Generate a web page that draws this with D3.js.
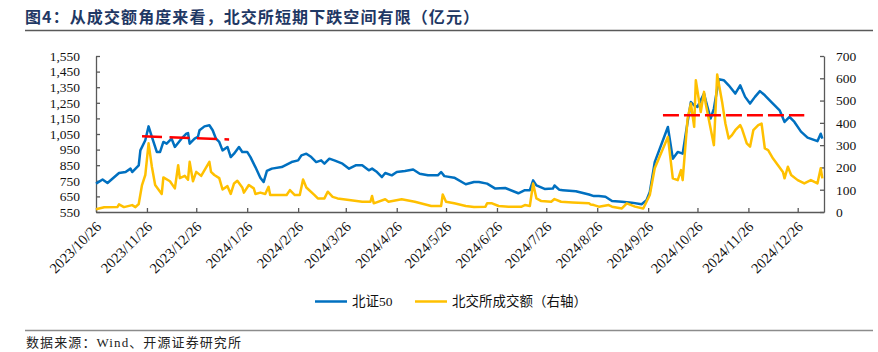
<!DOCTYPE html>
<html>
<head>
<meta charset="utf-8">
<script src="https://cdn.jsdelivr.net/npm/d3@7"></script>
<style>
  body { margin: 0; background: #fff; }
  svg text { font-family: "Liberation Serif", "Noto Sans CJK SC", serif; }
</style>
</head>
<body>
<div id="wrapper"></div>
<script>
const titleText = "图4：从成交额角度来看，北交所短期下跌空间有限（亿元）"
const sourceText = "数据来源：Wind、开源证券研究所"
const seriesNames = ["北证50", "北交所成交额（右轴）"]

const xTickLabels = ["2023/10/26", "2023/11/26", "2023/12/26", "2024/1/26", "2024/2/26",
  "2024/3/26", "2024/4/26", "2024/5/26", "2024/6/26", "2024/7/26", "2024/8/26",
  "2024/9/26", "2024/10/26", "2024/11/26", "2024/12/26"]
const leftTicks = [550, 650, 750, 850, 950, 1050, 1150, 1250, 1350, 1450, 1550]
const rightTicks = [0, 100, 200, 300, 400, 500, 600, 700]

// 北证50 (left axis)
const bz50Dates = ["2023-10-26","2023-10-30","2023-11-02","2023-11-09","2023-11-13","2023-11-16","2023-11-17","2023-11-21","2023-11-22","2023-11-25","2023-11-27","2023-11-29","2023-12-02","2023-12-04","2023-12-06","2023-12-08","2023-12-11","2023-12-13","2023-12-17","2023-12-20","2023-12-21","2023-12-22","2023-12-25","2023-12-27","2023-12-28","2023-12-31","2024-01-03","2024-01-05","2024-01-07","2024-01-09","2024-01-11","2024-01-14","2024-01-16","2024-01-18","2024-01-21","2024-01-23","2024-01-26","2024-01-28","2024-01-31","2024-02-03","2024-02-05","2024-02-07","2024-02-10","2024-02-16","2024-02-22","2024-02-26","2024-02-28","2024-03-02","2024-03-05","2024-03-08","2024-03-11","2024-03-13","2024-03-16","2024-03-19","2024-03-24","2024-03-28","2024-04-01","2024-04-05","2024-04-09","2024-04-11","2024-04-14","2024-04-17","2024-04-19","2024-04-23","2024-04-26","2024-05-01","2024-05-06","2024-05-10","2024-05-15","2024-05-21","2024-05-23","2024-05-25","2024-05-31","2024-06-07","2024-06-12","2024-06-15","2024-06-20","2024-06-25","2024-07-01","2024-07-09","2024-07-13","2024-07-16","2024-07-18","2024-07-20","2024-07-25","2024-07-30","2024-07-31","2024-08-03","2024-08-05","2024-08-13","2024-08-21","2024-08-24","2024-08-27","2024-08-31","2024-09-04","2024-09-10","2024-09-16","2024-09-22","2024-09-25","2024-09-27","2024-09-30","2024-10-08","2024-10-11","2024-10-14","2024-10-17","2024-10-20","2024-10-22","2024-10-24","2024-10-26","2024-10-30","2024-10-31","2024-11-03","2024-11-05","2024-11-08","2024-11-11","2024-11-14","2024-11-18","2024-11-21","2024-11-24","2024-11-27","2024-11-30","2024-12-03","2024-12-06","2024-12-10","2024-12-15","2024-12-18","2024-12-21","2024-12-24","2024-12-28","2025-01-01","2025-01-07","2025-01-09","2025-01-10"]
const bz50Values = [732,758,736,800,806,828,806,849,945,1010,1099,1031,935,935,999,988,1020,967,1020,1052,1056,988,1020,1031,1074,1099,1106,1074,1020,999,945,967,902,924,967,935,935,902,838,770,742,813,828,838,870,881,913,924,902,870,881,860,892,881,860,828,849,849,817,828,806,774,800,785,806,813,822,795,785,785,806,780,770,728,742,742,732,700,704,670,690,690,753,721,698,700,720,692,690,683,662,652,652,648,620,616,610,600,625,678,870,1095,892,935,924,1127,1255,1234,1224,1309,1266,1149,1213,1401,1395,1362,1309,1362,1288,1245,1288,1325,1298,1255,1202,1127,1159,1127,1065,1027,1004,1052,1020]

// 北交所成交额 (right axis)
const volumeDates = ["2023-10-26","2023-10-31","2023-11-08","2023-11-09","2023-11-12","2023-11-17","2023-11-19","2023-11-21","2023-11-23","2023-11-25","2023-11-27","2023-11-29","2023-12-01","2023-12-05","2023-12-06","2023-12-10","2023-12-13","2023-12-15","2023-12-16","2023-12-19","2023-12-21","2023-12-22","2023-12-24","2023-12-26","2023-12-29","2024-01-03","2024-01-04","2024-01-06","2024-01-09","2024-01-11","2024-01-14","2024-01-16","2024-01-18","2024-01-20","2024-01-23","2024-01-24","2024-01-27","2024-01-30","2024-01-31","2024-02-03","2024-02-06","2024-02-08","2024-02-09","2024-02-16","2024-02-19","2024-02-21","2024-02-24","2024-02-27","2024-02-29","2024-03-02","2024-03-07","2024-03-09","2024-03-13","2024-03-15","2024-03-18","2024-03-21","2024-03-28","2024-04-05","2024-04-10","2024-04-11","2024-04-12","2024-04-19","2024-04-21","2024-04-29","2024-05-07","2024-05-17","2024-05-23","2024-05-24","2024-05-26","2024-05-31","2024-06-07","2024-06-12","2024-06-19","2024-06-20","2024-06-23","2024-06-27","2024-07-03","2024-07-11","2024-07-13","2024-07-16","2024-07-18","2024-07-20","2024-07-23","2024-07-29","2024-07-31","2024-08-04","2024-08-11","2024-08-21","2024-08-22","2024-08-24","2024-08-27","2024-09-02","2024-09-04","2024-09-10","2024-09-13","2024-09-18","2024-09-23","2024-09-25","2024-09-27","2024-09-30","2024-10-08","2024-10-11","2024-10-14","2024-10-16","2024-10-17","2024-10-20","2024-10-22","2024-10-24","2024-10-25","2024-10-28","2024-10-30","2024-10-31","2024-11-03","2024-11-05","2024-11-07","2024-11-10","2024-11-12","2024-11-14","2024-11-16","2024-11-18","2024-11-21","2024-11-22","2024-11-25","2024-11-27","2024-11-29","2024-12-02","2024-12-04","2024-12-06","2024-12-08","2024-12-11","2024-12-14","2024-12-17","2024-12-18","2024-12-20","2024-12-22","2024-12-26","2024-12-30","2025-01-03","2025-01-07","2025-01-09","2025-01-10"]
const volumeValues = [12,21,22,34,22,31,22,36,121,166,308,203,121,81,155,138,106,210,152,162,145,225,138,180,162,225,180,166,152,101,116,81,128,140,110,87,121,106,81,87,81,113,76,76,76,98,76,76,146,110,76,61,61,91,68,61,54,46,46,72,39,57,46,57,46,27,27,79,46,39,27,22,24,39,39,27,24,24,31,27,128,61,49,46,58,46,43,39,34,31,24,31,24,16,39,24,16,46,76,196,337,151,143,188,143,420,487,382,591,449,539,487,375,300,617,494,397,330,345,367,390,375,308,293,367,390,397,285,278,240,210,180,151,203,166,143,128,143,128,196,151]

// red dashed reference lines
const refLeftDates = ["2023-11-23", "2024-01-15"]
const refLeftValues = [1035, 1015]
const refRightDates = ["2024-10-05", "2024-12-30"]
const refRightValues = [434, 434]

const colors = ["#0070C0", "#FFC000"]
const refColor = "#FF0000"

const parseDate = d3.timeParse("%Y-%m-%d")
const parseTick = d3.timeParse("%Y/%m/%d")

const width = 878
const height = 352
const plot = { left: 96, right: 824, top: 56, bottom: 212 }

const wrapper = d3.select("#wrapper")
  .append("svg")
    .attr("width", width)
    .attr("height", height)

// title + rules
wrapper.append("text")
  .attr("x", 25)
  .attr("y", 23)
  .style("font-family", "'Noto Sans CJK SC'")
  .style("font-weight", "bold")
  .style("font-size", "16px")
  .style("letter-spacing", "1.1px")
  .attr("fill", "#1F3864")
  .text(titleText)

wrapper.append("line")
  .attr("x1", 25).attr("x2", 873)
  .attr("y1", 30.5).attr("y2", 30.5)
  .attr("stroke", "#595959")
  .attr("stroke-width", 1.5)

wrapper.append("line")
  .attr("x1", 25).attr("x2", 873)
  .attr("y1", 330.5).attr("y2", 330.5)
  .attr("stroke", "#8c8c8c")
  .attr("stroke-width", 1.5)

wrapper.append("text")
  .attr("x", 26)
  .attr("y", 347)
  .style("font-size", "13px")
  .style("letter-spacing", "1.1px")
  .attr("fill", "#222")
  .text(sourceText)

// scales
const xScale = d3.scaleTime()
  .domain([parseDate("2023-10-26"), parseDate("2025-01-11")])
  .range([plot.left, plot.right])

const yLeft = d3.scaleLinear()
  .domain([550, 1550])
  .range([plot.bottom, plot.top])

const yRight = d3.scaleLinear()
  .domain([0, 700])
  .range([plot.bottom, plot.top])

// axes
const axisColor = "#595959"

const xAxis = wrapper.append("g")
  .attr("transform", `translate(0, ${plot.bottom})`)
  .call(d3.axisBottom(xScale)
    .tickValues(xTickLabels.map(parseTick))
    .tickFormat(d3.timeFormat("%Y/%-m/%-d"))
    .tickSize(-4)
    .tickSizeOuter(0))

xAxis.selectAll(".tick text")
  .attr("text-anchor", "end")
  .attr("transform", "translate(2, 12) rotate(-45)")
  .attr("dy", "0.35em")
  .attr("y", 0)

const leftAxis = wrapper.append("g")
  .attr("transform", `translate(${plot.left}, 0)`)
  .call(d3.axisLeft(yLeft)
    .tickValues(leftTicks)
    .tickFormat(d3.format(","))
    .tickSize(-4)
    .tickSizeOuter(0)
    .tickPadding(16))

const rightAxis = wrapper.append("g")
  .attr("transform", `translate(${plot.right}, 0)`)
  .call(d3.axisRight(yRight)
    .tickValues(rightTicks)
    .tickSize(-4)
    .tickSizeOuter(0)
    .tickPadding(12))

wrapper.selectAll(".domain, .tick line")
  .attr("stroke", axisColor)
  .attr("stroke-width", 1.3)

wrapper.selectAll(".tick text")
  .attr("fill", "#111")
  .style("font-size", "13.5px")
  .style("font-family", "'Liberation Serif'")

xAxis.selectAll(".tick text")
  .style("font-size", "14.5px")

// lines
const bz50 = bz50Dates.map((d, i) => ({ date: parseDate(d), value: bz50Values[i] }))
const volume = volumeDates.map((d, i) => ({ date: parseDate(d), value: volumeValues[i] }))

const lineLeft = d3.line()
  .x(d => xScale(d.date))
  .y(d => yLeft(d.value))

const lineRight = d3.line()
  .x(d => xScale(d.date))
  .y(d => yRight(d.value))

wrapper.append("path")
  .datum(bz50)
  .attr("d", lineLeft)
  .attr("fill", "none")
  .attr("stroke", colors[0])
  .attr("stroke-width", 2.5)
  .attr("stroke-linejoin", "round")

wrapper.append("path")
  .datum(volume)
  .attr("d", lineRight)
  .attr("fill", "none")
  .attr("stroke", colors[1])
  .attr("stroke-width", 2.5)
  .attr("stroke-linejoin", "round")

// reference lines
const refLeft = refLeftDates.map((d, i) => ({ date: parseDate(d), value: refLeftValues[i] }))
const refRight = refRightDates.map((d, i) => ({ date: parseDate(d), value: refRightValues[i] }))

wrapper.append("path")
  .datum(refLeft)
  .attr("d", lineLeft)
  .attr("fill", "none")
  .attr("stroke", refColor)
  .attr("stroke-width", 2.5)
  .attr("stroke-dasharray", "20,7.5")

wrapper.append("path")
  .datum(refRight)
  .attr("d", lineRight)
  .attr("fill", "none")
  .attr("stroke", refColor)
  .attr("stroke-width", 2.5)
  .attr("stroke-dasharray", "16,5")

// legend
const legendX = [315, 415]
const legend = wrapper.append("g")
  .attr("transform", "translate(0, 301.5)")

seriesNames.forEach((name, i) => {
  legend.append("line")
    .attr("x1", legendX[i]).attr("x2", legendX[i] + 32)
    .attr("stroke", colors[i])
    .attr("stroke-width", 2.5)
  legend.append("text")
    .attr("x", legendX[i] + 37)
    .attr("dy", "0.35em")
    .style("font-size", "13.5px")
    .attr("fill", "#111")
    .text(name)
})
</script>
</body>
</html>
